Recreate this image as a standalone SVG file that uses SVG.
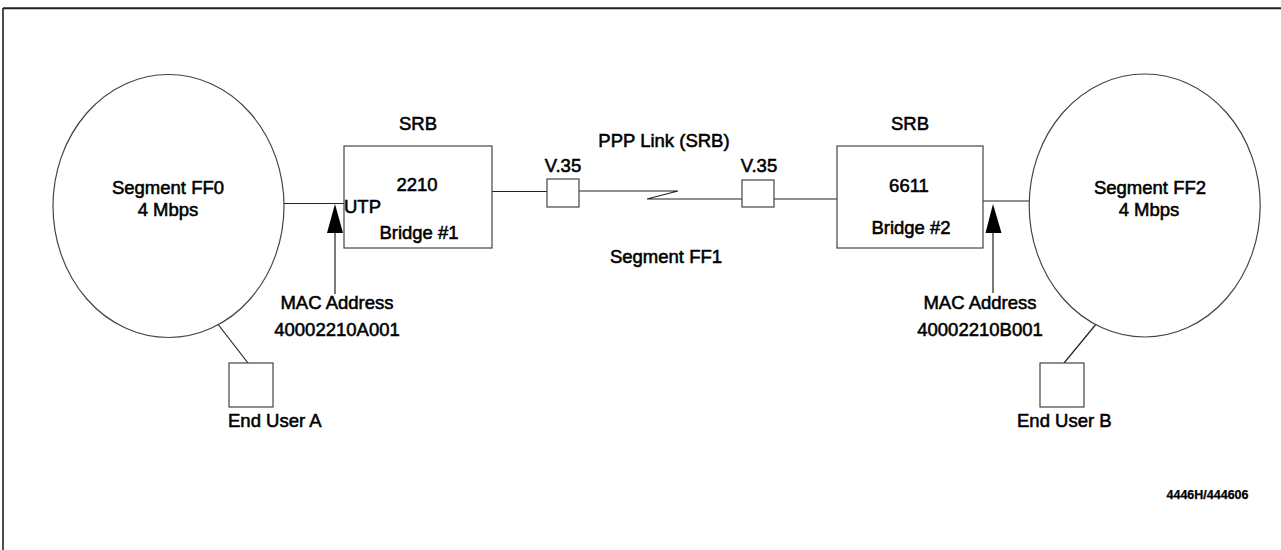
<svg xmlns="http://www.w3.org/2000/svg" width="1281" height="550" viewBox="0 0 1281 550">
<style>
text{font-family:"Liberation Sans",Arial,sans-serif;font-size:18.5px;fill:#000;stroke:#000;stroke-width:0.55px}
.c{text-anchor:middle}
.ln{fill:none;stroke:#222;stroke-width:1.2}
.bx{fill:#fff;stroke:#444;stroke-width:1.2}
.tag{font-size:12.5px;font-weight:bold;stroke-width:0.25px}
</style>
<rect width="1281" height="550" fill="#fff"/>
<g id="frame">
<line x1="3" y1="8.3" x2="1281" y2="8.3" stroke="#222" stroke-width="2"/>
<line x1="3" y1="8" x2="3" y2="550" stroke="#222" stroke-width="1.6"/>
</g>
<g id="connectors">
<line class="ln" x1="284" y1="203.5" x2="344" y2="203.5"/>
<line class="ln" x1="492" y1="191.5" x2="547" y2="191.5"/>
<polyline class="ln" points="579,191 678,191 647,199 742,199"/>
<line class="ln" x1="774" y1="199" x2="837" y2="199"/>
<line class="ln" x1="983" y1="201" x2="1029" y2="201"/>
<line class="ln" x1="217" y1="323" x2="248" y2="363"/>
<line class="ln" x1="1097" y1="323" x2="1064" y2="363"/>
<line class="ln" x1="335" y1="232" x2="335" y2="294"/>
<polygon points="335,204 327,233 343,233" fill="#000"/>
<line class="ln" x1="993" y1="232" x2="993" y2="293"/>
<polygon points="993,204 985.5,233 1001.5,233" fill="#000"/>
</g>
<g id="segment-ff0">
<ellipse class="bx" cx="168.5" cy="206" rx="115.5" ry="131.5" stroke="#222"/>
<text class="c" x="168" y="194">Segment FF0</text>
<text class="c" x="168" y="216">4 Mbps</text>
</g>
<g id="bridge1">
<text class="c" x="418" y="130">SRB</text>
<rect class="bx" x="344" y="146" width="148" height="102"/>
<text class="c" x="417" y="191">2210</text>
<text class="c" x="419" y="239">Bridge #1</text>
<text x="344" y="213">UTP</text>
</g>
<g id="mac-a">
<text class="c" x="337" y="309">MAC Address</text>
<text class="c" x="337" y="336">40002210A001</text>
</g>
<g id="v35-1">
<text class="c" x="563" y="172">V.35</text>
<rect class="bx" x="547" y="179" width="32" height="28"/>
</g>
<g id="link-labels">
<text class="c" x="664" y="147">PPP Link (SRB)</text>
<text class="c" x="666" y="263">Segment FF1</text>
</g>
<g id="v35-2">
<text class="c" x="759" y="172">V.35</text>
<rect class="bx" x="742" y="180" width="32" height="27"/>
</g>
<g id="bridge2">
<text class="c" x="910" y="130">SRB</text>
<rect class="bx" x="837" y="146" width="146" height="102"/>
<text class="c" x="909" y="192">6611</text>
<text class="c" x="911" y="234">Bridge #2</text>
</g>
<g id="mac-b">
<text class="c" x="980" y="309">MAC Address</text>
<text class="c" x="980" y="336">40002210B001</text>
</g>
<g id="segment-ff2">
<ellipse class="bx" cx="1144.7" cy="205.5" rx="115.5" ry="131.5" stroke="#222"/>
<text class="c" x="1150" y="194">Segment FF2</text>
<text class="c" x="1149" y="216">4 Mbps</text>
</g>
<g id="end-user-a">
<rect class="bx" x="229" y="363" width="44" height="44"/>
<text x="228" y="427">End User A</text>
</g>
<g id="end-user-b">
<rect class="bx" x="1040" y="363" width="44" height="44"/>
<text x="1017" y="427">End User B</text>
</g>
<text class="tag" x="1166.5" y="498.5">4446H/444606</text>
</svg>
